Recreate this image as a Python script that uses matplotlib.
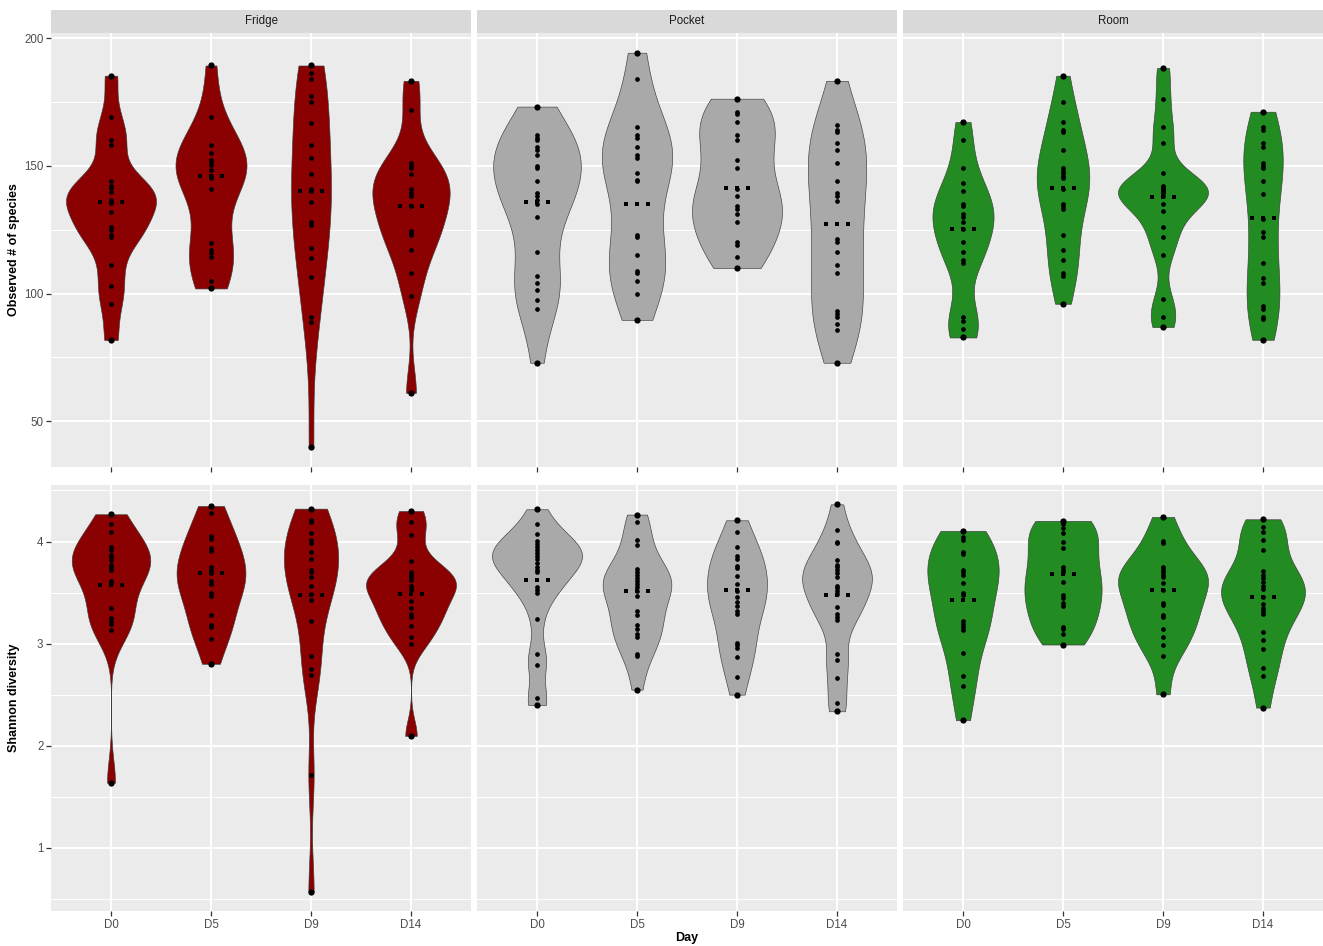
import numpy as np
import matplotlib.pyplot as plt

plt.rcParams["font.family"] = ["Liberation Sans", "DejaVu Sans"]

days = ["D0", "D5", "D9", "D14"]
storages = ["Fridge", "Pocket", "Room"]
fills = {"Fridge": "#8B0000", "Pocket": "#A9A9A9", "Room": "#228B22"}

# Observed # of species, one list per day (D0, D5, D9, D14)
obs_fridge = [
    [185.3, 169.0, 160.3, 158.1, 144.1, 142.2, 141.3, 139.6, 136.7, 135.9, 135.4, 132.0,
     125.9, 124.9, 122.9, 122.0, 111.1, 103.0, 96.0, 81.8],
    [189.3, 169.0, 158.1, 155.1, 152.3, 151.4, 150.4, 148.4, 146.2, 145.3, 141.1, 119.9,
     117.1, 116.0, 114.2, 105.1, 102.0],
    [189.3, 186.2, 184.0, 177.2, 175.1, 166.9, 158.1, 153.0, 147.0, 140.9, 140.0, 135.9,
     127.9, 127.0, 118.0, 114.1, 106.3, 91.0, 88.9, 39.8],
    [183.3, 172.0, 151.0, 150.1, 149.1, 147.0, 141.1, 139.2, 138.2, 134.1, 134.1, 124.5,
     123.8, 122.9, 117.1, 108.1, 99.0, 61.1],
]
obs_pocket = [
    [173.2, 162.1, 161.1, 160.0, 157.2, 156.3, 154.2, 150.1, 149.3, 144.0, 139.2, 138.2,
     136.6, 135.0, 130.1, 116.1, 107.0, 104.0, 101.2, 97.3, 94.0, 72.9],
    [194.3, 184.1, 165.1, 162.1, 161.1, 157.2, 154.2, 153.1, 147.1, 144.5, 144.0, 122.9,
     122.0, 115.1, 109.0, 108.1, 105.1, 100.0, 89.7],
    [176.3, 171.2, 170.2, 167.1, 162.1, 160.0, 152.1, 149.1, 141.1, 138.2, 134.1, 133.1,
     131.1, 128.1, 120.1, 119.1, 114.2, 110.0],
    [183.3, 166.1, 164.1, 163.2, 159.1, 156.1, 151.0, 144.0, 139.2, 138.2, 136.1, 121.2,
     120.1, 116.1, 111.1, 108.1, 93.1, 92.1, 91.0, 88.2, 85.9, 72.9],
]
obs_room = [
    [167.2, 160.0, 149.1, 143.1, 140.1, 135.2, 134.1, 131.1, 130.1, 128.1, 125.1, 120.2,
     116.1, 113.2, 112.1, 91.0, 89.1, 86.1, 82.8],
    [185.3, 175.1, 167.1, 164.2, 163.2, 156.1, 149.1, 148.0, 147.1, 146.1, 145.1, 141.1,
     135.2, 134.1, 133.1, 123.0, 117.1, 113.2, 108.1, 107.0, 96.0],
    [188.3, 176.2, 165.1, 159.1, 147.1, 142.1, 141.6, 141.1, 140.6, 140.1, 139.3,
     138.2, 135.2, 132.2, 126.0, 122.1, 115.1, 98.0, 91.0, 86.9],
    [171.2, 165.1, 164.2, 159.1, 157.2, 151.0, 150.1, 149.1, 144.0, 139.1, 129.2, 124.2,
     122.1, 112.1, 106.1, 104.0, 95.1, 94.0, 91.0, 90.1, 81.9],
]

# Shannon diversity, one list per day (D0, D5, D9, D14)
sha_fridge = [
    [4.267, 4.176, 4.091, 3.945, 3.919, 3.867, 3.844, 3.818, 3.769, 3.746, 3.723, 3.616,
     3.593, 3.349, 3.252, 3.226, 3.190, 3.138, 1.637],
    [4.348, 4.277, 4.052, 4.026, 3.941, 3.909, 3.746, 3.720, 3.694, 3.616, 3.583, 3.496,
     3.463, 3.284, 3.183, 3.160, 3.043, 2.802],
    [4.322, 4.212, 4.192, 4.085, 4.016, 3.990, 3.899, 3.828, 3.720, 3.697, 3.649, 3.567,
     3.483, 3.427, 3.222, 2.874, 2.754, 2.689, 1.709, 0.570],
    [4.299, 4.189, 4.065, 3.811, 3.704, 3.675, 3.649, 3.623, 3.567, 3.544, 3.525, 3.414,
     3.349, 3.291, 3.265, 3.173, 3.063, 2.998, 2.096],
]
sha_pocket = [
    [4.316, 4.169, 4.072, 4.007, 3.980, 3.948, 3.919, 3.886, 3.857, 3.828, 3.788, 3.753,
     3.720, 3.697, 3.557, 3.528, 3.492, 3.242, 2.894, 2.789, 2.467, 2.399],
    [4.264, 4.192, 4.016, 3.961, 3.730, 3.704, 3.671, 3.642, 3.616, 3.583, 3.557, 3.512,
     3.470, 3.317, 3.284, 3.186, 3.144, 3.095, 3.063, 2.894, 2.874, 2.549],
    [4.208, 4.094, 3.948, 3.860, 3.828, 3.762, 3.740, 3.665, 3.583, 3.518, 3.460, 3.411,
     3.372, 3.317, 3.291, 3.007, 2.991, 2.959, 2.868, 2.672, 2.500],
    [4.364, 4.114, 3.997, 3.984, 3.821, 3.769, 3.746, 3.723, 3.691, 3.655, 3.567, 3.541,
     3.512, 3.486, 3.356, 3.291, 3.258, 3.232, 2.900, 2.835, 2.666, 2.418, 2.337],
]
sha_room = [
    [4.104, 4.049, 4.013, 3.893, 3.876, 3.723, 3.697, 3.675, 3.590, 3.492, 3.476, 3.219,
     3.193, 3.167, 3.134, 2.907, 2.679, 2.588, 2.249],
    [4.202, 4.176, 4.137, 4.081, 4.000, 3.935, 3.746, 3.720, 3.697, 3.606, 3.476, 3.447,
     3.398, 3.365, 3.167, 3.144, 3.095, 2.991],
    [4.241, 4.007, 3.984, 3.746, 3.723, 3.697, 3.675, 3.649, 3.590, 3.525, 3.398, 3.382,
     3.284, 3.258, 3.144, 3.063, 2.991, 2.877, 2.503],
    [4.218, 4.143, 4.098, 4.016, 3.919, 3.707, 3.671, 3.642, 3.606, 3.567, 3.535, 3.453,
     3.388, 3.349, 3.323, 3.291, 3.118, 3.040, 2.949, 2.760, 2.682, 2.373],
]

# median marks
obs_median = {"Fridge": [135.7, 146.1, 140.1, 134.2],
              "Pocket": [135.9, 135.0, 141.5, 127.1],
              "Room": [125.4, 141.3, 138.0, 129.4]}
sha_median = {"Fridge": [3.574, 3.694, 3.479, 3.486],
              "Pocket": [3.619, 3.515, 3.525, 3.479],
              "Room": [3.431, 3.681, 3.525, 3.453]}

obs_data = {"Fridge": obs_fridge, "Pocket": obs_pocket, "Room": obs_room}
sha_data = {"Fridge": sha_fridge, "Pocket": sha_pocket, "Room": sha_room}

metrics = [
    ("Observed # of species", obs_data, obs_median, [50, 100, 150, 200]),
    ("Shannon diversity", sha_data, sha_median, [1, 2, 3, 4]),
]


def bw_nrd0(x):
    sd = np.std(x, ddof=1)
    iqr = np.subtract(*np.percentile(x, [75, 25]))
    lo = min(sd, iqr / 1.34) if iqr > 0 else sd
    return 0.9 * lo * len(x) ** -0.2


def kde(x):
    x = np.asarray(x)
    bw = bw_nrd0(x)
    grid = np.linspace(x.min(), x.max(), 512)
    dens = np.exp(-0.5 * ((grid[:, None] - x[None, :]) / bw) ** 2).sum(axis=1)
    dens /= len(x) * bw * np.sqrt(2 * np.pi)
    return grid, dens


W, H = 1323, 946
fig = plt.figure(figsize=(W / 100, H / 100), dpi=100)

col_left = [51, 477, 903]
col_w = 420
rows = [(33, 467), (485, 911)]


def px_axes(l, t, w, h, **kw):
    return fig.add_axes([l / W, 1 - (t + h) / H, w / W, h / H], **kw)


for r, (title, data, medians, yticks) in enumerate(metrics):
    allv = np.concatenate([np.concatenate(data[s]) for s in storages])
    rng = allv.max() - allv.min()
    ylim = (allv.min() - 0.05 * rng, allv.max() + 0.05 * rng)
    top, bot = rows[r]
    for c, s in enumerate(storages):
        ax = px_axes(col_left[c], top, col_w, bot - top)
        ax.set_facecolor("#EBEBEB")
        for sp in ax.spines.values():
            sp.set_visible(False)
        ax.set_xlim(0.4, 4.6)
        ax.set_ylim(*ylim)
        ax.set_yticks(yticks)
        minor = [(a + b) / 2 for a, b in zip(yticks[:-1], yticks[1:])]
        step = yticks[1] - yticks[0]
        minor = [yticks[0] - step / 2] + minor + [yticks[-1] + step / 2]
        ax.set_yticks([m for m in minor if ylim[0] < m < ylim[1]], minor=True)
        ax.set_xticks(range(1, 5))
        ax.grid(True, which="major", color="white", lw=1.4)
        ax.grid(True, which="minor", axis="y", color="white", lw=0.7)
        ax.set_axisbelow(True)
        ax.tick_params(which="major", length=3.5, width=0.9, color="#333333",
                       labelcolor="#4D4D4D", labelsize=8.3, pad=2)
        ax.tick_params(which="minor", length=0)
        if r == 0:
            ax.set_xticklabels([])
        else:
            ax.set_xticklabels(days)
        if c > 0:
            ax.tick_params(axis="y", which="major", length=0, labelleft=False)

        groups = data[s]
        kdes = [kde(g) for g in groups]
        dmax = max(d.max() for _, d in kdes)
        for i, (g, (grid, dens)) in enumerate(zip(groups, kdes)):
            x0 = i + 1
            hw = 0.45 * dens / dmax
            ax.fill_betweenx(grid, x0 - hw, x0 + hw, facecolor=fills[s],
                             edgecolor="#3C3C3C", lw=0.45, zorder=2)
            g = np.asarray(g)
            ax.plot(np.full(len(g), x0), g, "o", color="black", ms=3.4,
                    mew=0, zorder=3)
            ext = [g.min(), g.max()]
            ax.plot([x0, x0], ext, "o", color="black", ms=4.5, mew=0, zorder=3)
            m = medians[s][i]
            ax.plot([x0 - 0.11, x0, x0 + 0.11], [m] * 3, "s", color="black",
                    ms=2.6, mew=0, zorder=4)

        if r == 0:
            sax = px_axes(col_left[c], 10, col_w, 23)
            sax.set_facecolor("#D9D9D9")
            sax.set_xticks([])
            sax.set_yticks([])
            for sp in sax.spines.values():
                sp.set_visible(False)
            sax.text(0.5, 0.5, s, ha="center", va="center", fontsize=8.3,
                     color="#1A1A1A", transform=sax.transAxes)

    fig.text(14 / W, 1 - (top + bot) / 2 / H, title, rotation=90, ha="center",
             va="center", fontsize=9, fontweight="bold", color="black")

fig.text((51 + 1323) / 2 / W, 1 - 938 / H, "Day", ha="center", va="center",
         fontsize=9, fontweight="bold", color="black")

fig.savefig("out.png", dpi=100)
